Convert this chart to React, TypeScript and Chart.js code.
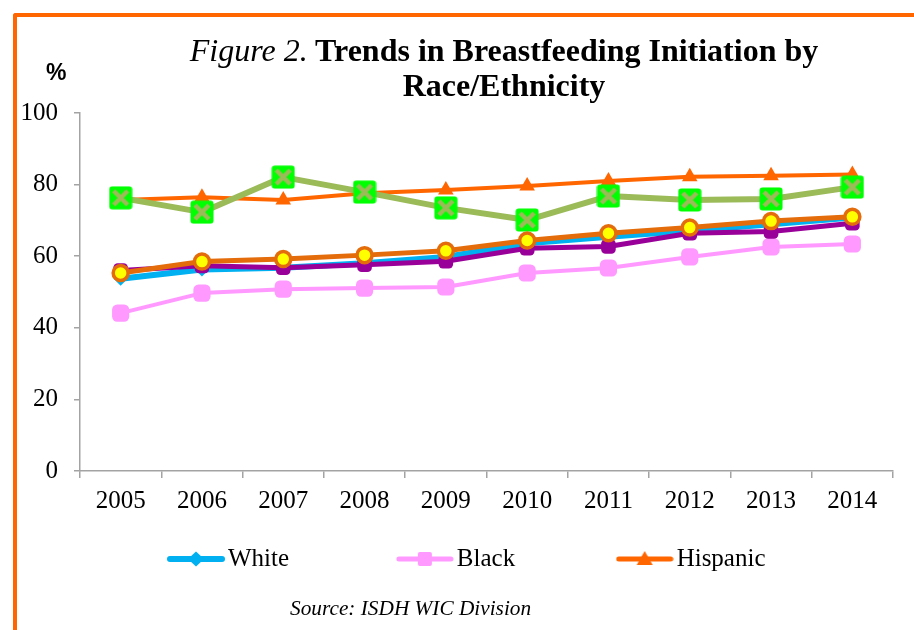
import React, { useEffect, useRef } from 'react';
import { Chart, registerables } from 'chart.js';

Chart.register(...registerables);

const years = ['2005', '2006', '2007', '2008', '2009', '2010', '2011', '2012', '2013', '2014'];
const whiteValues = [53.7, 56.3, 56.8, 58.0, 59.8, 63.6, 65.4, 67.1, 68.9, 70.8];
const blackValues = [44.1, 49.7, 50.8, 51.1, 51.4, 55.3, 56.7, 59.8, 62.6, 63.4];
const hispanicValues = [75.7, 76.5, 75.7, 77.6, 78.5, 79.6, 81.0, 82.2, 82.5, 82.8];
const multiracialValues = [56.0, 57.3, 56.8, 57.6, 58.6, 62.2, 62.7, 66.4, 66.9, 69.2];
const asianValues = [76.3, 72.3, 82.1, 77.9, 73.5, 70.1, 76.8, 75.7, 76.0, 79.3];
const totalValues = [55.3, 58.5, 59.2, 60.3, 61.5, 64.4, 66.4, 68.0, 69.8, 71.0];
const yTicks = [0, 20, 40, 60, 80, 100];
const legendNames = ['White', 'Black', 'Hispanic'];
const legendSpaces = [17, 16, 0];

const SERIF = '"Liberation Serif", "Times New Roman", Times, serif';
const AXIS = '#A3A3A3';

function makeLegendIcon(color: string, lw: number, marker: string) {
  const c = document.createElement('canvas');
  c.width = 58;
  c.height = 20;
  const ctx = c.getContext('2d')!;
  ctx.strokeStyle = color;
  ctx.fillStyle = color;
  ctx.lineWidth = lw;
  ctx.lineCap = 'round';
  ctx.beginPath();
  ctx.moveTo(3, 10);
  ctx.lineTo(55, 10);
  ctx.stroke();
  ctx.beginPath();
  if (marker === 'diamond') {
    ctx.moveTo(29, 2.5);
    ctx.lineTo(37, 10);
    ctx.lineTo(29, 17.5);
    ctx.lineTo(21, 10);
    ctx.closePath();
  } else if (marker === 'square') {
    (ctx as any).roundRect(22, 3, 14, 14, 2);
  } else {
    ctx.moveTo(29, 2);
    ctx.lineTo(37, 16);
    ctx.lineTo(21, 16);
    ctx.closePath();
  }
  ctx.fill();
  return c;
}

function makeAsianMarker() {
  const c = document.createElement('canvas');
  c.width = 24;
  c.height = 24;
  const ctx = c.getContext('2d')!;
  ctx.fillStyle = '#00FF00';
  ctx.beginPath();
  (ctx as any).roundRect(0.5, 0.5, 23, 23, 3);
  ctx.fill();
  ctx.strokeStyle = '#9BBB59';
  ctx.lineWidth = 4.5;
  ctx.lineCap = 'butt';
  ctx.beginPath();
  ctx.moveTo(5, 5);
  ctx.lineTo(19, 19);
  ctx.moveTo(19, 5);
  ctx.lineTo(5, 19);
  ctx.stroke();
  return c;
}

export default function App() {
  const ref = useRef<HTMLCanvasElement>(null);

  useEffect(() => {
    const canvas = ref.current!;
    const asianMarker = makeAsianMarker();
    const icons = [
      makeLegendIcon('#00B0F0', 6, 'diamond'),
      makeLegendIcon('#FF99FF', 5, 'square'),
      makeLegendIcon('#FF6600', 5, 'triangle'),
    ];
    const tickFont = { family: SERIF, size: 25 };

    const base = {
      tension: 0,
      borderJoinStyle: 'round' as const,
      borderCapStyle: 'round' as const,
      clip: false as const,
    };

    const chart = new Chart(canvas, {
      type: 'line',
      data: {
        labels: years,
        datasets: [
          {
            ...base,
            label: 'White',
            data: whiteValues,
            borderColor: '#00B0F0',
            backgroundColor: '#00B0F0',
            borderWidth: 6,
            pointStyle: 'rectRot',
            pointRadius: 7,
            pointBorderWidth: 0,
            order: 6,
          },
          {
            ...base,
            label: 'Black',
            data: blackValues,
            borderColor: '#FF99FF',
            backgroundColor: '#FF99FF',
            borderWidth: 4,
            pointStyle: 'rectRounded',
            pointRadius: 10,
            pointBorderWidth: 0,
            order: 5,
          },
          {
            ...base,
            label: 'Hispanic',
            data: hispanicValues,
            borderColor: '#FF6600',
            backgroundColor: '#FF6600',
            borderWidth: 4,
            pointStyle: 'triangle',
            pointRadius: 9,
            pointBorderWidth: 0,
            order: 4,
          },
          {
            ...base,
            label: 'Multiracial',
            data: multiracialValues,
            borderColor: '#990099',
            backgroundColor: '#990099',
            borderWidth: 5,
            pointStyle: 'rectRounded',
            pointRadius: 8.5,
            pointBorderWidth: 0,
            order: 3,
          },
          {
            ...base,
            label: 'Asian',
            data: asianValues,
            borderColor: '#9BBB59',
            backgroundColor: '#00FF00',
            borderWidth: 6,
            pointStyle: asianMarker,
            pointRadius: 12,
            order: 2,
          },
          {
            ...base,
            label: 'Total',
            data: totalValues,
            borderColor: '#E46C0A',
            backgroundColor: '#FFFF00',
            borderWidth: 5,
            pointStyle: 'circle',
            pointRadius: 7.5,
            pointBorderWidth: 3.5,
            pointBorderColor: '#E46C0A',
            pointBackgroundColor: '#FFFF00',
            order: 1,
          },
        ],
      },
      options: {
        responsive: false,
        animation: false,
        devicePixelRatio: 1,
        layout: { padding: { top: 96, left: 0, right: 0, bottom: 48.5 } },
        plugins: {
          title: { display: false },
          tooltip: { enabled: false },
          legend: {
            position: 'bottom',
            labels: {
              usePointStyle: true,
              pointStyleWidth: 39,
              padding: 10,
              color: '#000',
              font: { family: SERIF, size: 25 },
              generateLabels: () =>
                legendNames.map((name, i) => ({
                  text: name + ' '.repeat(legendSpaces[i]),
                  datasetIndex: i,
                  pointStyle: icons[i] as any,
                  fillStyle: 'transparent',
                  strokeStyle: 'transparent',
                  lineWidth: 0,
                  hidden: false,
                  fontColor: '#000',
                })),
            },
          },
        },
        scales: {
          x: {
            offset: true,
            grid: {
              offset: true,
              drawOnChartArea: false,
              tickLength: 7,
              color: AXIS,
              lineWidth: 1.5,
            },
            border: { color: AXIS, width: 1.5 },
            ticks: { font: tickFont, color: '#000', padding: 8, maxRotation: 0, autoSkip: false },
            afterFit: (s: any) => {
              s.height = 65.5;
            },
          },
          y: {
            min: 0,
            max: 100,
            afterBuildTicks: (s: any) => {
              s.ticks = yTicks.map((v) => ({ value: v }));
            },
            grid: {
              drawOnChartArea: false,
              tickLength: 6,
              color: AXIS,
              lineWidth: 1.5,
            },
            border: { color: AXIS, width: 1.5 },
            ticks: { font: tickFont, color: '#000', padding: 16 },
            afterFit: (s: any) => {
              s.width = 63;
            },
          },
          yRight: {
            type: 'linear',
            axis: 'y',
            position: 'right',
            min: 0,
            max: 100,
            grid: { display: false, drawTicks: false },
            border: { display: false },
            ticks: { display: false },
            afterFit: (s: any) => {
              s.width = 32;
            },
          },
        },
      },
    });
    return () => chart.destroy();
  }, []);

  return (
    <div
      style={{
        position: 'fixed',
        left: 0,
        top: 0,
        width: 914,
        height: 630,
        background: '#fff',
        overflow: 'hidden',
      }}
    >
      <div
        style={{
          position: 'absolute',
          left: 13,
          top: 13,
          width: 950,
          height: 700,
          borderTop: '4.5px solid #FF6600',
          borderLeft: '4.5px solid #FF6600',
          borderTopLeftRadius: 3,
          boxSizing: 'border-box',
        }}
      />
      <canvas
        ref={ref}
        width={908}
        height={613}
        style={{ position: 'absolute', left: 17, top: 17, display: 'block' }}
      />
      <div
        style={{
          position: 'absolute',
          left: 0,
          top: 32.7,
          width: 1008,
          textAlign: 'center',
          fontFamily: SERIF,
          fontSize: 32,
          fontWeight: 'bold',
          lineHeight: '35px',
          color: '#000',
        }}
      >
        <div>
          <span style={{ fontStyle: 'italic', fontWeight: 'normal' }}>Figure 2.</span> Trends in
          Breastfeeding Initiation by
        </div>
        <div>Race/Ethnicity</div>
      </div>
      <div
        style={{
          position: 'absolute',
          left: 46,
          top: 61,
          fontFamily: '"Liberation Sans", Arial, sans-serif',
          fontWeight: 'bold',
          fontSize: 23,
          lineHeight: '23px',
          color: '#000',
        }}
      >
        %
      </div>
      <div
        style={{
          position: 'absolute',
          left: 290,
          top: 596,
          fontFamily: SERIF,
          fontStyle: 'italic',
          fontSize: 21.3,
          lineHeight: '24px',
          color: '#000',
          whiteSpace: 'nowrap',
        }}
      >
        Source: ISDH WIC Division
      </div>
    </div>
  );
}
